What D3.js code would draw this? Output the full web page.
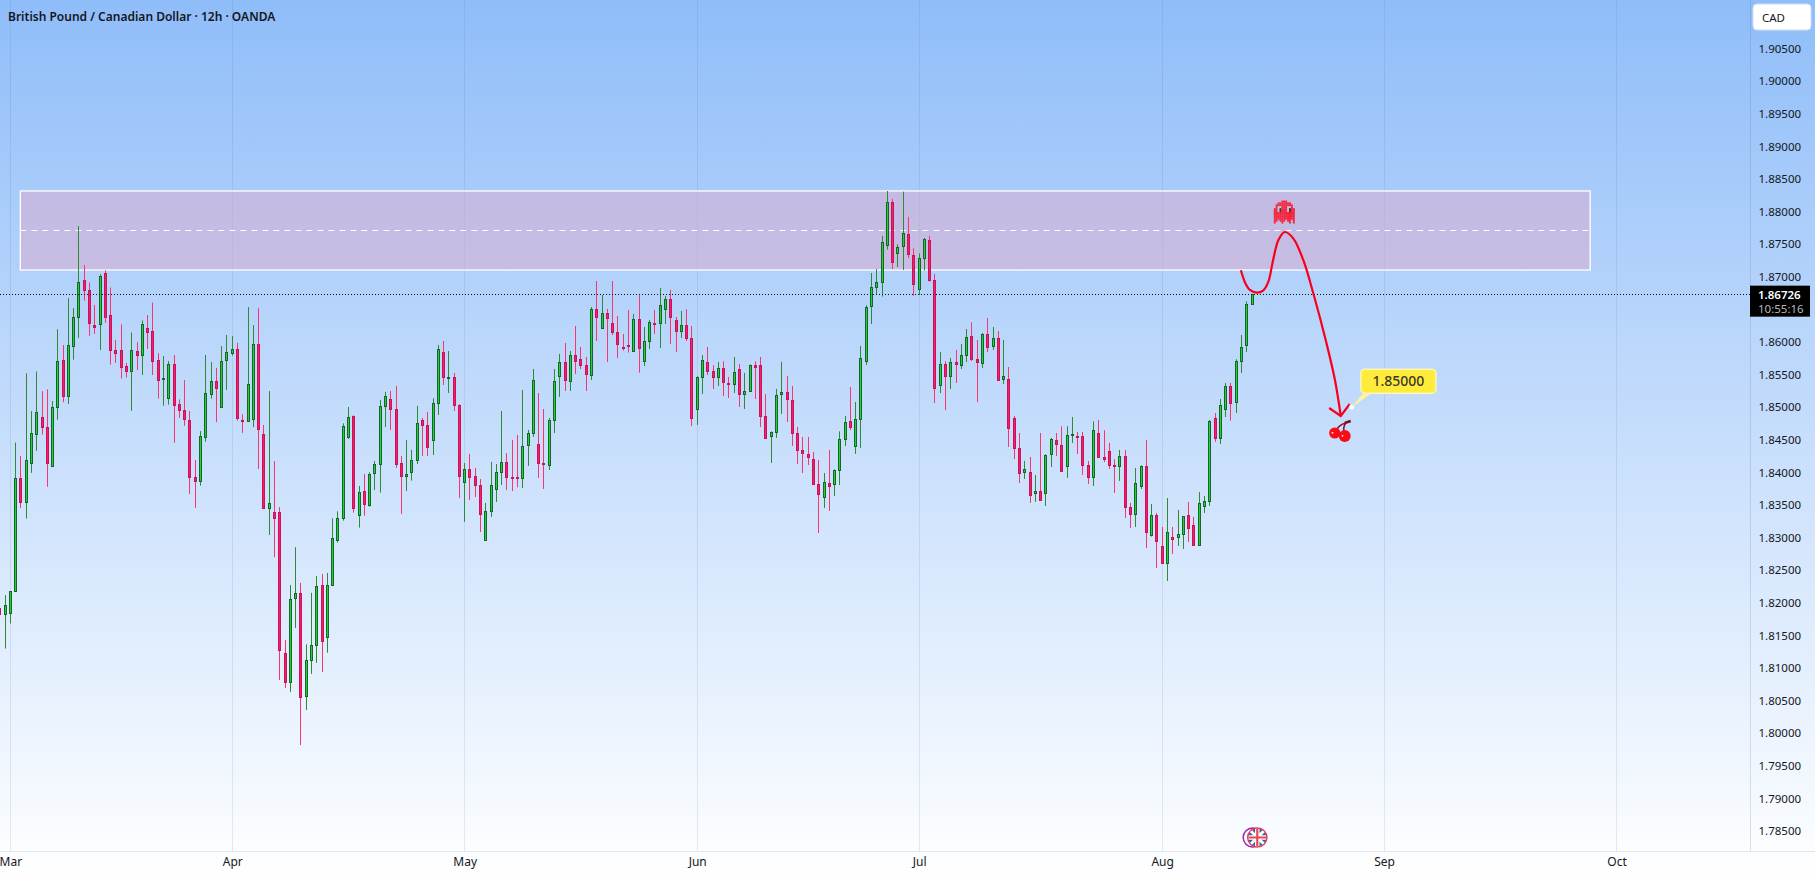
<!DOCTYPE html>
<html>
<head>
<meta charset="utf-8">
<title>GBP/CAD 12h</title>
<script src="https://cdn.jsdelivr.net/npm/d3@7/dist/d3.min.js"></script>
<style>
  html, body { margin: 0; padding: 0; background: #fff; overflow: hidden; }
  svg { display: block; }
  text { font-family: "Noto Sans", "Open Sans", sans-serif; }
</style>
</head>
<body>
<svg id="chart" width="1815" height="879"></svg>
<script>
// 12h candles, oldest first. The first entry sits two bars left of the March tick.
const firstBar = -2;
const opens = [
  1.81917,1.81824,1.8184,1.82174,1.83911,1.83538,1.84135,1.84584,1.84842,1.84688,
  1.84091,1.84995,1.85718,1.8516,1.85932,1.86376,1.86945,1.86792,1.86255,1.86272,
  1.87055,1.86409,1.85872,1.85872,1.85625,1.85543,1.85855,1.8579,1.86211,1.86162,
  1.85718,1.85423,1.85132,1.85658,1.85045,1.84951,1.84798,1.83922,1.83856,1.84546,
  1.85192,1.85395,1.84995,1.85713,1.85822,1.85888,1.84798,1.84776,1.84809,1.85965,
  1.84584,1.83445,1.83385,1.83385,1.81226,1.80788,1.82065,1.82147,1.80558,1.81111,
  1.81341,1.82258,1.8148,1.82262,1.82954,1.83291,1.84533,1.8486,1.83337,1.8371,
  1.8349,1.83981,1.84124,1.85009,1.85121,1.84968,1.8414,1.83935,1.83997,1.84181,
  1.84799,1.84722,1.84487,1.85055,1.85842,1.85453,1.85459,1.85029,1.83843,1.84048,
  1.8394,1.83802,1.82954,1.83398,1.83736,1.84002,1.84155,1.83925,1.83925,1.83905,
  1.84411,1.84595,1.84431,1.8414,1.84104,1.84794,1.85469,1.85689,1.85392,1.85796,
  1.85735,1.85643,1.85484,1.86501,1.86205,1.8644,1.86287,1.86149,1.85919,1.85939,
  1.85852,1.86348,1.85699,1.86006,1.86287,1.86282,1.86496,1.86655,1.86333,1.86159,
  1.86256,1.86057,1.84963,1.85453,1.85689,1.85551,1.85453,1.85597,1.85367,1.85346,
  1.85581,1.85193,1.85239,1.85643,1.85643,1.8486,1.84549,1.8461,1.85193,1.85229,
  1.85106,1.846,1.84339,1.84278,1.84201,1.83818,1.83613,1.83833,1.83813,1.84027,
  1.84503,1.84784,1.84395,1.84809,1.85699,1.86542,1.86834,1.8691,1.87478,1.88142,
  1.87355,1.87463,1.87652,1.8733,1.86803,1.87279,1.8756,1.86946,1.85331,1.85658,
  1.85469,1.85689,1.85638,1.85791,1.86087,1.85735,1.85668,1.86118,1.85929,1.86057,
  1.85423,1.85428,1.8483,1.8437,1.83997,1.84002,1.83675,1.8371,1.83675,1.84273,
  1.84493,1.84416,1.84089,1.84564,1.84554,1.84554,1.84109,1.8392,1.846,1.84232,
  1.84324,1.84109,1.84089,1.84247,1.83465,1.83353,1.83782,1.84094,1.8303,1.83342,
  1.82867,1.82601,1.83005,1.83,1.83046,1.83342,1.83189,1.82877,1.83475,1.83552,
  1.8483,1.84518,1.84963,1.85321,1.8507,1.85699,1.85944,1.86573
];
const highs = [
  1.81917,1.82119,1.82174,1.84458,1.8425,1.85521,1.84941,1.85548,1.85247,1.85275,
  1.85094,1.86195,1.85954,1.86672,1.86518,1.87778,1.87181,1.86913,1.86567,1.87039,
  1.87099,1.86836,1.86031,1.86272,1.8568,1.86146,1.85998,1.86332,1.86414,1.86606,
  1.85828,1.85784,1.85707,1.85801,1.85121,1.85417,1.84941,1.8419,1.84634,1.85801,
  1.85691,1.85603,1.85938,1.86107,1.86091,1.85987,1.84891,1.86535,1.86261,1.86524,
  1.84727,1.85247,1.84174,1.83467,1.81429,1.82273,1.82853,1.82306,1.81363,1.82152,
  1.8241,1.82442,1.82458,1.83296,1.83404,1.84753,1.85004,1.84876,1.83792,1.83976,
  1.84002,1.84175,1.85111,1.85234,1.85249,1.85326,1.84252,1.84498,1.84344,1.85019,
  1.84835,1.84927,1.85137,1.85954,1.86016,1.85862,1.85525,1.85045,1.84145,1.84283,
  1.84068,1.83899,1.83531,1.8416,1.84129,1.84942,1.84298,1.84498,1.84574,1.85264,
  1.84651,1.85586,1.85218,1.84973,1.84835,1.85586,1.85816,1.85985,1.85862,1.86246,
  1.85924,1.8577,1.86537,1.86936,1.86721,1.86507,1.86936,1.86399,1.86123,1.86491,
  1.8643,1.86716,1.8623,1.86338,1.86491,1.86829,1.86706,1.86798,1.86384,1.86476,
  1.86501,1.86246,1.85474,1.85801,1.85924,1.85643,1.85694,1.85704,1.85464,1.8577,
  1.85663,1.85525,1.85658,1.85704,1.8577,1.85203,1.8463,1.8528,1.85694,1.85479,
  1.85326,1.84697,1.84544,1.84544,1.84314,1.84191,1.83991,1.84344,1.84048,1.8463,
  1.84866,1.8531,1.8508,1.85939,1.86563,1.87059,1.8712,1.87626,1.88316,1.88194,
  1.87498,1.88306,1.87918,1.87437,1.8736,1.87596,1.87626,1.87043,1.85847,1.85704,
  1.85755,1.85878,1.8597,1.862,1.86302,1.86031,1.86139,1.86369,1.86231,1.86169,
  1.86031,1.85617,1.84866,1.84605,1.84176,1.84237,1.83961,1.84605,1.84278,1.84528,
  1.84605,1.84707,1.84707,1.8485,1.8462,1.8462,1.84176,1.84784,1.84804,1.84646,
  1.84452,1.84201,1.84344,1.84344,1.83531,1.84068,1.84109,1.84498,1.83516,1.83378,
  1.83163,1.83608,1.83163,1.83424,1.83332,1.83547,1.83317,1.837,1.83639,1.84804,
  1.84912,1.85126,1.85372,1.85372,1.85735,1.86108,1.86624,1.86732
];
const lows = [
  1.81824,1.81298,1.81681,1.82174,1.83456,1.83292,1.83993,1.84332,1.84579,1.83779,
  1.84091,1.84809,1.85077,1.8505,1.85729,1.86063,1.86633,1.86096,1.86124,1.85877,
  1.86294,1.85653,1.8568,1.85439,1.85455,1.84946,1.8557,1.85494,1.85894,1.85494,
  1.85132,1.85023,1.85039,1.84453,1.84836,1.84716,1.8367,1.83456,1.83796,1.84469,
  1.85132,1.84771,1.84995,1.85264,1.8579,1.84793,1.84606,1.84776,1.84694,1.84053,
  1.83445,1.8304,1.827,1.80816,1.80695,1.80629,1.81615,1.79818,1.80355,1.80909,
  1.81079,1.80939,1.81235,1.82262,1.82923,1.8326,1.84513,1.83383,1.83153,1.83337,
  1.83475,1.83731,1.8369,1.84697,1.84651,1.84068,1.83363,1.83715,1.83874,1.84129,
  1.84252,1.84252,1.84267,1.84881,1.85341,1.85218,1.84942,1.83608,1.8324,1.83577,
  1.83623,1.83087,1.82954,1.83317,1.83547,1.83807,1.83731,1.83715,1.83772,1.83761,
  1.84099,1.84544,1.83915,1.83746,1.84037,1.84605,1.85157,1.85249,1.85249,1.8551,
  1.85586,1.85249,1.85418,1.86016,1.86205,1.85694,1.86108,1.85755,1.85868,1.85837,
  1.85852,1.8553,1.85632,1.85893,1.86123,1.85908,1.86276,1.8597,1.85847,1.86062,
  1.86016,1.84712,1.84728,1.85203,1.85494,1.8528,1.85326,1.85172,1.85142,1.85218,
  1.85004,1.84973,1.85239,1.85126,1.84697,1.84518,1.84145,1.84528,1.84896,1.84774,
  1.84405,1.84129,1.83991,1.84114,1.83813,1.83071,1.83455,1.83409,1.83639,1.83807,
  1.84405,1.84651,1.84283,1.84375,1.85648,1.86276,1.86737,1.86696,1.87417,1.8712,
  1.87151,1.87105,1.87289,1.86711,1.86721,1.87095,1.86926,1.85065,1.85218,1.84958,
  1.8528,1.85372,1.85586,1.85694,1.85709,1.8508,1.85602,1.85847,1.85878,1.85408,
  1.85356,1.8439,1.84206,1.83838,1.83899,1.83531,1.83547,1.83562,1.83485,1.84084,
  1.84252,1.84012,1.83915,1.84452,1.84283,1.83961,1.83823,1.83792,1.84227,1.8416,
  1.84053,1.83685,1.83869,1.83301,1.83148,1.83163,1.83746,1.82841,1.83015,1.82535,
  1.82601,1.82335,1.82749,1.82872,1.82826,1.82933,1.82877,1.82877,1.83378,1.83485,
  1.84467,1.84436,1.8485,1.84794,1.84912,1.85525,1.85847,1.86573
];
const closes = [
  1.81824,1.8196,1.82174,1.83911,1.83538,1.84185,1.84601,1.84919,1.84688,1.84135,
  1.84995,1.85702,1.8516,1.85948,1.86376,1.86913,1.86787,1.86283,1.86222,1.87006,
  1.86387,1.85872,1.85822,1.85609,1.85543,1.85872,1.8579,1.86272,1.86157,1.85696,
  1.85406,1.85434,1.85658,1.85023,1.84946,1.84809,1.83922,1.83856,1.84552,1.85214,
  1.85395,1.85286,1.85702,1.85839,1.85888,1.84825,1.84776,1.85351,1.85965,1.84656,
  1.83445,1.83527,1.83292,1.81265,1.80788,1.82054,1.82147,1.80558,1.81117,1.81347,
  1.82251,1.81403,1.82273,1.82989,1.83296,1.84707,1.84845,1.83444,1.83695,1.83506,
  1.83971,1.84124,1.85014,1.85167,1.84968,1.84119,1.83935,1.83971,1.84186,1.84753,
  1.84717,1.8438,1.8506,1.85888,1.85453,1.85459,1.85024,1.83935,1.84048,1.8392,
  1.83797,1.83352,1.83404,1.83802,1.84002,1.84155,1.8392,1.8392,1.8392,1.844,
  1.846,1.85413,1.84135,1.84135,1.84799,1.85397,1.85689,1.85407,1.85796,1.85699,
  1.85637,1.85499,1.86501,1.86374,1.8644,1.86358,1.86144,1.8596,1.85898,1.85929,
  1.86348,1.85898,1.86011,1.86302,1.86282,1.86563,1.86655,1.86374,1.86159,1.86256,
  1.86052,1.84825,1.85459,1.85719,1.85545,1.85453,1.85597,1.85377,1.85361,1.85535,
  1.85193,1.85244,1.85643,1.85607,1.84855,1.84518,1.84615,1.85183,1.85229,1.85116,
  1.84595,1.84334,1.84288,1.84227,1.83813,1.83659,1.83848,1.83782,1.84032,1.84508,
  1.84768,1.84687,1.84814,1.8575,1.86532,1.86839,1.86915,1.87529,1.88142,1.87217,
  1.87452,1.87667,1.8734,1.8688,1.87284,1.87575,1.86941,1.85285,1.85658,1.85469,
  1.85689,1.85653,1.85796,1.86072,1.8573,1.85684,1.86118,1.85914,1.86057,1.85408,
  1.85474,1.84671,1.84365,1.83981,1.84038,1.83644,1.8371,1.83577,1.84262,1.84508,
  1.84426,1.84012,1.84569,1.84585,1.84549,1.84104,1.8392,1.84646,1.84227,1.84196,
  1.84104,1.84104,1.84247,1.8346,1.83353,1.83833,1.84094,1.83077,1.83342,1.82938,
  1.82601,1.83082,1.82969,1.83051,1.83327,1.83138,1.82877,1.83526,1.83557,1.84784,
  1.84518,1.85029,1.85321,1.85055,1.85704,1.85919,1.86578,1.86726
];

// Month ticks on the bar axis.
const monthBars = [0, 42, 86, 130, 172, 218, 260, 304];
const monthLabels = ["Mar", "Apr", "May", "Jun", "Jul", "Aug", "Sep", "Oct"];

// Price ticks.
const priceTicks = [
  1.785,1.79,1.795,1.8,1.805,1.81,1.815,1.82,1.825,1.83,1.835,1.84,1.845,
  1.85,1.855,1.86,1.865,1.87,1.875,1.88,1.885,1.89,1.895,1.9,1.905
];

// Drawing objects, in bar / price terms.
const zoneBars = [1.9, 299];
const zonePrices = [1.88316, 1.87104];
const zoneMid = 1.8771;
const pathBars = [232.9,233.7,234.6,235.9,237.1,238.1,239,240,241.2,242.8,244.7,246.6,249.1,250.7,251.8];
const pathPrices = [1.871,1.8691,1.86798,1.86756,1.86787,1.86925,1.87258,1.87564,1.87687,1.8759,1.87258,1.86747,1.8598,1.85417,1.84865];
const arrowBars = [249.6, 251.8, 253.5];
const arrowPrices = [1.84988, 1.84865, 1.85049];
const targetBar = 253.9;
const targetPrice = 1.85;
const ghostBar = 241.1;
const ghostPrice = 1.87994;
const cherryBar = 251.6;
const cherryPrice = 1.84635;
const eventBar = 236;
const ghostSprite = [
  "....RRR....",
  "..RRRRRRR..",
  ".RRRRRRRRR.",
  ".RWWRRRWWR.",
  "RRWKRRRWKRR",
  "RRWKRRRWKRR",
  "RRRRRRRRRRR",
  "RRRRRRRRRRR",
  "RRRRRRRRRRR",
  "RRRRRRRRRRR",
  "RR.RRR.RR.R",
  "R...R...R.R"
];

const W = 1815, H = 879, plotW = 1750, plotH = 851;
const x = d3.scaleLinear().domain([-1.95, 329.25]).range([0, plotW]);
const y = d3.scaleLinear().domain([1.785, 1.905]).range([831, 48.6]);
const crisp = v => Math.floor(v) + 0.5;

const bars = opens.map((o, i) => ({
  bar: firstBar + i, o, h: highs[i], l: lows[i], c: closes[i]
}));

const svg = d3.select("#chart");
const defs = svg.append("defs");

const bg = defs.append("linearGradient").attr("id", "bg")
  .attr("x1", 0).attr("x2", 0).attr("y1", 0).attr("y2", 1);
bg.append("stop").attr("offset", 0).attr("stop-color", "#8fbdf9");
bg.append("stop").attr("offset", 1).attr("stop-color", "#ffffff");

defs.append("clipPath").attr("id", "plot")
  .append("rect").attr("width", plotW).attr("height", plotH);

svg.append("rect").attr("width", W).attr("height", H).attr("fill", "url(#bg)");

// Month grid
svg.append("g").selectAll("line").data(monthBars).join("line")
  .attr("x1", d => crisp(x(d))).attr("x2", d => crisp(x(d)))
  .attr("y1", 0).attr("y2", plotH)
  .attr("stroke", "rgba(70,100,150,0.13)");

// Axes
const yAxis = svg.append("g").attr("transform", `translate(${plotW + 0.5},0)`)
  .call(d3.axisRight(y).tickValues(priceTicks).tickFormat(d3.format(".5f")).tickSize(0).tickPadding(8));
yAxis.select(".domain").attr("stroke", "rgba(70,100,150,0.18)").attr("d", `M0,0V${plotH}`);
yAxis.selectAll("text").attr("font-size", 11.5).attr("fill", "#131722")
  .style("font-family", '"Noto Sans", sans-serif');

const xAxis = svg.append("g").attr("transform", `translate(0,${plotH + 0.5})`)
  .call(d3.axisBottom(x).tickValues(monthBars)
    .tickFormat((d, i) => monthLabels[i]).tickSize(0).tickPadding(6));
xAxis.select(".domain").attr("stroke", "rgba(70,100,150,0.14)").attr("d", `M0,0H${W}`);
xAxis.selectAll("text").attr("font-size", 12).attr("fill", "#131722")
  .style("font-family", '"Noto Sans", sans-serif');

const plot = svg.append("g").attr("clip-path", "url(#plot)");

// Resistance zone
plot.append("rect")
  .attr("x", x(zoneBars[0])).attr("width", x(zoneBars[1]) - x(zoneBars[0]))
  .attr("y", y(zonePrices[0])).attr("height", y(zonePrices[1]) - y(zonePrices[0]))
  .attr("fill", "rgba(221,169,203,0.5)")
  .attr("stroke", "#ffffff").attr("stroke-width", 1.3);
plot.append("line")
  .attr("x1", x(zoneBars[0])).attr("x2", x(zoneBars[1]))
  .attr("y1", y(zoneMid)).attr("y2", y(zoneMid))
  .attr("stroke", "#ffffff").attr("stroke-width", 1.2).attr("stroke-dasharray", "6 5");

// Candles
const isUp = d => d.c >= d.o;
const candle = plot.append("g").selectAll("g").data(bars).join("g");
candle.append("line")
  .attr("x1", d => crisp(x(d.bar))).attr("x2", d => crisp(x(d.bar)))
  .attr("y1", d => y(d.h)).attr("y2", d => y(d.l))
  .attr("stroke", d => isUp(d) ? "#2f8a35" : "#f7356f");
candle.append("rect")
  .attr("x", d => crisp(x(d.bar)) - 1)
  .attr("width", 2)
  .attr("y", d => crisp(y(Math.max(d.o, d.c))))
  .attr("height", d => Math.max(1, Math.round(y(Math.min(d.o, d.c)) - y(Math.max(d.o, d.c)))))
  .attr("fill", d => isUp(d) ? "#1ed42f" : "#ff1a66")
  .attr("stroke", d => isUp(d) ? "#17652a" : "#c9125c");

// Last price line
const last = closes[closes.length - 1];
plot.append("line")
  .attr("x1", 0).attr("x2", plotW)
  .attr("y1", crisp(y(last))).attr("y2", crisp(y(last)))
  .attr("stroke", "#0b0f1a").attr("stroke-dasharray", "1 2");

// Projected path with arrow head
const curve = d3.line().x(d => x(d[0])).y(d => y(d[1])).curve(d3.curveCatmullRom.alpha(0.5));
plot.append("path").datum(d3.zip(pathBars, pathPrices))
  .attr("d", curve).attr("fill", "none").attr("stroke", "#f7001e").attr("stroke-width", 2.2);
plot.append("path").datum(d3.zip(arrowBars, arrowPrices))
  .attr("d", d3.line().x(d => x(d[0])).y(d => y(d[1])))
  .attr("fill", "none").attr("stroke", "#f7001e").attr("stroke-width", 2.2);

// Ghost marker
const ghostCell = 1.9;
const ghostColor = { R: "#f7213c", W: "#c9c2cc", K: "#3a3338" };
const ghost = plot.append("g")
  .attr("transform", `translate(${x(ghostBar) - 5.5 * ghostCell},${y(ghostPrice) - 6 * ghostCell})`);
ghostSprite.forEach((row, r) => {
  [...row].forEach((ch, c) => {
    if (ch === ".") return;
    ghost.append("rect")
      .attr("x", c * ghostCell).attr("y", r * ghostCell)
      .attr("width", ghostCell + 0.1).attr("height", ghostCell + 0.1)
      .attr("fill", ghostColor[ch]);
  });
});

// Cherry marker
const cherry = plot.append("g")
  .attr("transform", `translate(${x(cherryBar)},${y(cherryPrice)})`);
cherry.append("path").attr("d", "M-4,0 C-2,-4 2,-7 6,-8 M5,2 C3,-2 4,-5 6,-8")
  .attr("fill", "none").attr("stroke", "#8a1020").attr("stroke-width", 1.5);
cherry.append("path").attr("d", "M5,-8 L11,-10")
  .attr("fill", "none").attr("stroke", "#7a0c1a").attr("stroke-width", 2.4);
[[-5, 2, 5.6], [5, 5, 6]].forEach(([cx, cy, r]) => {
  cherry.append("circle").attr("cx", cx).attr("cy", cy).attr("r", r).attr("fill", "#f60d15");
  cherry.append("rect").attr("x", cx - 3).attr("y", cy - 1).attr("width", 1.6).attr("height", 1.6).attr("fill", "#ffe3e3");
});

// Price callout
const tx = x(targetBar), ty = y(targetPrice);
const boxL = tx + 9, boxT = ty - 38, boxW = 75, boxH = 24;
plot.append("path")
  .attr("d", `M${tx},${ty} L${boxL + 3},${boxT + boxH - 1} L${boxL + 12},${boxT + boxH - 1} Z`)
  .attr("fill", "#fff3a0");
plot.append("rect")
  .attr("x", boxL).attr("y", boxT).attr("width", boxW).attr("height", boxH).attr("rx", 4)
  .attr("fill", "#ffeb3b").attr("stroke", "#fdf6b5").attr("stroke-width", 1.5);
plot.append("text")
  .attr("x", boxL + boxW / 2).attr("y", boxT + boxH / 2 + 5).attr("text-anchor", "middle")
  .attr("font-size", 14).attr("font-weight", 500).attr("fill", "#3a3a2a")
  .text(d3.format(".5f")(targetPrice));
plot.append("circle")
  .attr("cx", tx).attr("cy", ty).attr("r", 2.6)
  .attr("fill", "#ffffff").attr("stroke", "#cfe0f7").attr("stroke-width", 0.8);

// UK economic event badge on the time edge
const ex = x(eventBar), ey = 837.5;
defs.append("clipPath").attr("id", "flagClip")
  .append("circle").attr("cx", ex).attr("cy", ey).attr("r", 9);
svg.append("circle").attr("cx", ex - 4.6).attr("cy", ey).attr("r", 9.5)
  .attr("fill", "#fff").attr("stroke", "#9c27b0").attr("stroke-width", 1.5);
svg.append("circle").attr("cx", ex).attr("cy", ey).attr("r", 9.6)
  .attr("fill", "#fff").attr("stroke", "#f23645").attr("stroke-width", 1.5);
const flag = svg.append("g").attr("clip-path", "url(#flagClip)");
flag.append("rect").attr("x", ex - 9).attr("y", ey - 9).attr("width", 18).attr("height", 18).attr("fill", "#2a5db0");
flag.append("path").attr("d", `M${ex-9},${ey-9}L${ex+9},${ey+9}M${ex+9},${ey-9}L${ex-9},${ey+9}`)
  .attr("stroke", "#fff").attr("stroke-width", 3);
flag.append("path").attr("d", `M${ex},${ey-9}V${ey+9}M${ex-9},${ey}H${ex+9}`)
  .attr("stroke", "#fff").attr("stroke-width", 4.5);
flag.append("path").attr("d", `M${ex},${ey-9}V${ey+9}M${ex-9},${ey}H${ex+9}`)
  .attr("stroke", "#e8474f").attr("stroke-width", 2.2);

// Last price tag
const tagY = y(last) - 9;
svg.append("rect").attr("x", plotW).attr("y", tagY).attr("width", 60).attr("height", 31).attr("fill", "#000");
svg.append("text").attr("x", plotW + 8).attr("y", tagY + 13).attr("font-size", 11.5)
  .attr("font-weight", 600).attr("fill", "#fff").text(d3.format(".5f")(last));
svg.append("text").attr("x", plotW + 8).attr("y", tagY + 27).attr("font-size", 11.5)
  .attr("fill", "#b8b8b8").text("10:55:16");

// Currency button
svg.append("rect").attr("x", 1753).attr("y", 4).attr("width", 58).attr("height", 26).attr("rx", 4)
  .attr("fill", "#fff").attr("stroke", "#cfe0f7");
svg.append("text").attr("x", 1762).attr("y", 21.5).attr("font-size", 11.5).attr("fill", "#131722").text("CAD");

// Chart title
svg.append("text").attr("x", 8).attr("y", 21).attr("font-size", 12)
  .attr("font-weight", 600).attr("fill", "#131722")
  .text("British Pound / Canadian Dollar · 12h · OANDA");
</script>
</body>
</html>
